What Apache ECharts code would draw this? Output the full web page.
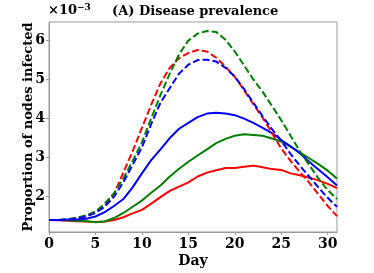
<!DOCTYPE html>
<html><head><meta charset="utf-8">
<script src="https://cdn.jsdelivr.net/npm/echarts@6/dist/echarts.min.js"></script>
<style>html,body{margin:0;padding:0;background:#fff}#c{width:374px;height:273px}</style>
</head><body><div id="c"></div>
<script>
const days = Array.from({length: 32}, (_, i) => i);
const xTicks = [0, 5, 10, 15, 20, 25, 30];
const yTicks = [2, 3, 4, 5, 6];
const blueSolid  = [1.38,1.38,1.39,1.39,1.41,1.47,1.58,1.74,1.92,2.22,2.58,2.92,3.20,3.49,3.73,3.88,4.03,4.12,4.14,4.12,4.08,3.99,3.88,3.75,3.62,3.44,3.28,3.10,2.88,2.68,2.48,2.27];
const greenSolid = [1.38,1.38,1.37,1.36,1.35,1.32,1.34,1.43,1.56,1.72,1.88,2.08,2.27,2.50,2.70,2.88,3.04,3.20,3.36,3.47,3.55,3.59,3.57,3.55,3.48,3.40,3.27,3.12,2.97,2.82,2.65,2.45];
const redSolid   = [1.38,1.37,1.36,1.35,1.34,1.33,1.34,1.38,1.45,1.55,1.64,1.80,1.97,2.13,2.24,2.35,2.50,2.60,2.66,2.72,2.72,2.75,2.78,2.74,2.69,2.67,2.58,2.53,2.47,2.40,2.31,2.20];
const redDashed  = [1.38,1.38,1.39,1.42,1.48,1.58,1.75,2.05,2.60,3.15,3.75,4.35,4.90,5.30,5.55,5.68,5.76,5.72,5.56,5.33,5.07,4.72,4.36,4.01,3.62,3.22,2.90,2.62,2.34,2.04,1.74,1.48];
const blueDashed = [1.38,1.38,1.39,1.42,1.47,1.56,1.72,1.98,2.35,2.80,3.25,3.85,4.40,4.78,5.15,5.38,5.50,5.51,5.46,5.30,5.07,4.75,4.40,4.05,3.72,3.42,3.08,2.78,2.50,2.22,1.95,1.72];
const greenDashed= [1.38,1.38,1.40,1.44,1.50,1.60,1.80,2.07,2.45,2.90,3.38,4.00,4.60,5.15,5.65,6.00,6.18,6.25,6.22,6.02,5.72,5.36,5.00,4.68,4.32,3.95,3.55,3.15,2.80,2.45,2.15,1.92];

const F = '"DejaVu Serif", serif';
function mk(data, color, dashed) {
  return {
    type: 'line', data: days.map((d, i) => [d, data[i]]), symbol: 'none', smooth: false,
    lineStyle: {color: color, width: 2, type: dashed ? [7, 3] : 'solid'},
    z: dashed ? 3 : 2, animation: false
  };
}
const chart = echarts.init(document.getElementById('c'));
chart.setOption({
  animation: false,
  grid: {left: 49, right: 37, top: 22, bottom: 35, show: true, borderColor: '#999', borderWidth: 1, backgroundColor: 'transparent'},
  xAxis: {
    type: 'value', min: 0, max: 31, interval: 5,
    name: 'Day', nameLocation: 'middle', nameGap: 22, nameMoveOverlap: false,
    nameTextStyle: {fontFamily: F, fontWeight: 'bold', fontSize: 14, color: '#000'},
    axisLine: {show: true, onZero: false, lineStyle: {color: '#999'}},
    axisTick: {show: true, length: 3, lineStyle: {color: '#999'}},
    axisLabel: {fontFamily: F, fontWeight: 'bold', fontSize: 14, color: '#000', margin: 5, showMaxLabel: false},
    splitLine: {show: false}
  },
  yAxis: {
    type: 'value', min: 1.07, max: 6.48,
    name: 'Proportion of nodes infected', nameLocation: 'middle', nameGap: 14, nameMoveOverlap: false,
    nameTextStyle: {fontFamily: F, fontWeight: 'bold', fontSize: 13, color: '#000'},
    axisLine: {show: true, lineStyle: {color: '#999'}},
    axisTick: {show: true, length: 3, customValues: yTicks, lineStyle: {color: '#999'}},
    axisLabel: {fontFamily: F, fontWeight: 'bold', fontSize: 14, color: '#000', margin: 4, customValues: yTicks},
    splitLine: {show: false}
  },
  graphic: [
    {type: 'text', left: 48, top: 3, style: {
      rich: {a: {fontFamily: F, fontWeight: 'bold', fontSize: 13, fill: '#000'}, s: {fontFamily: F, fontWeight: 'bold', fontSize: 9, fill: '#000', verticalAlign: 'top', padding: [0,0,6,0]}},
      text: '{a|×10}{s|−3}'
    }},
    {type: 'text', left: 112, top: 5, style: {text: '(A) Disease prevalence', fontFamily: F, fontWeight: 'bold', fontSize: 13, fill: '#000'}}
  ],
  series: [
    mk(redSolid, '#ff0000', false),
    mk(greenSolid, '#008000', false),
    mk(blueSolid, '#0000ff', false),
    mk(redDashed, '#ff0000', true),
    mk(greenDashed, '#008000', true),
    mk(blueDashed, '#0000ff', true)
  ]
});
</script></body></html>
